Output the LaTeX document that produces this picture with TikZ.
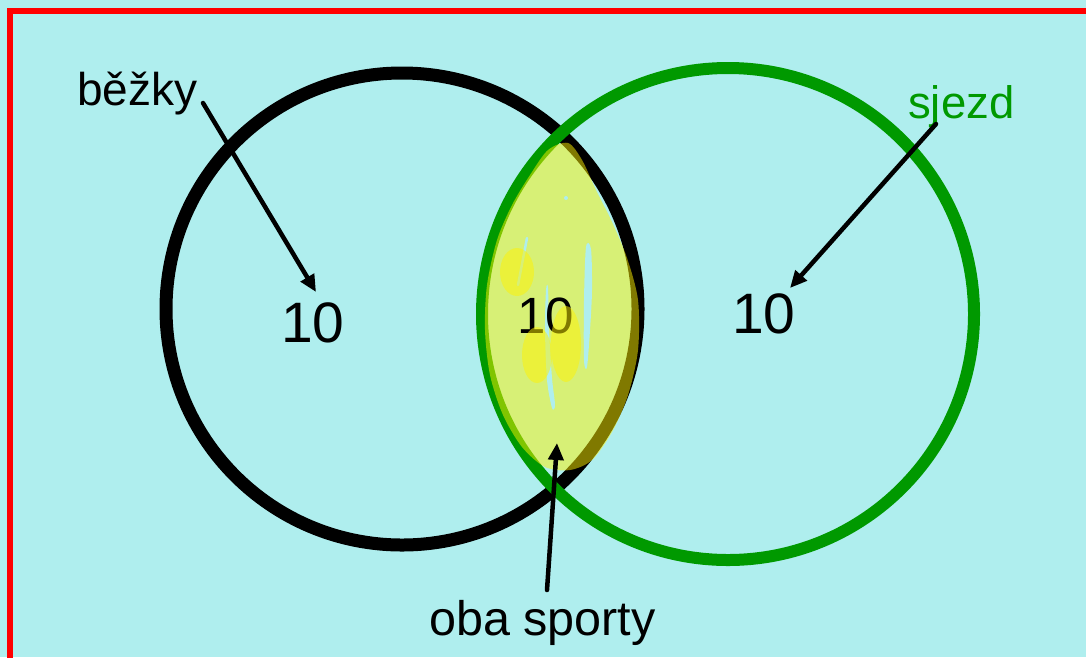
\documentclass[tikz,border=0pt]{standalone}
\usepackage{fontspec}
\setmainfont{Liberation Sans}
\usetikzlibrary{arrows.meta}
\definecolor{bg}{HTML}{AFEEEE}
\definecolor{vgreen}{HTML}{009900}
\begin{document}
\begin{tikzpicture}[x=1pt,y=-1pt,
  lbl/.style={inner sep=0pt, anchor=base west, font=\fontsize{46}{50}\selectfont},
  num/.style={inner sep=0pt, anchor=base west, font=\fontsize{57}{60}\selectfont},
  ptr/.style={line width=4.5pt, line cap=round, -{Triangle[length=17pt,width=15pt]}},
  hl/.style={fill=yellow, fill opacity=0.5},
  gap/.style={fill=bg}]
\useasboundingbox (0,0) rectangle (1086,657);
\fill[bg] (0,0) rectangle (1086,657);
\draw[red, line width=6pt] (10,660) -- (10,11) -- (1090,11);
% circles
\draw[black, line width=13pt] (402,309) circle[radius=236pt];
\draw[vgreen, line width=12pt] (728,314) circle[radius=246pt];
% highlight of the intersection
\fill[hl] plot[smooth cycle] coordinates {(568,143) (582,160) (596,190) (612,222) (627,258) (638,300) (638,350) (628,395) (612,432) (592,460) (570,470) (545,467) (522,447) (503,415) (490,375) (485,330) (487,285) (497,240) (512,205) (530,175) (548,150)};
% unpainted streaks
\fill[gap] plot[smooth cycle] coordinates {(586,247) (591,249) (592,290) (590,330) (587,367) (584,360) (584,300)};
\fill[gap] plot[smooth cycle] coordinates {(546,290) (548,288) (549,330) (552,378) (555,405) (552,408) (547,380) (545,330)};
\draw[bg, line width=2.5pt, line cap=round] (527,238) -- (518,285);
\fill[bg] (566,198) circle[radius=2pt];
% numbers
\node[num] (nL) at (281,342) {10};
\node[num] (nR) at (732,333) {10};
\node[num, font=\fontsize{51}{55}\selectfont] (nM) at (517,333) {10};
% extra highlight strokes
\fill[hl] (517,272) ellipse[x radius=17pt, y radius=24pt];
\fill[hl] (566,344) ellipse[x radius=15pt, y radius=38pt] (537,355) ellipse[x radius=15pt, y radius=28pt];
% labels
\node[lbl] (bez) at (77,105) {běžky};
\node[lbl, text=vgreen, font=\fontsize{45.5}{50}\selectfont] (sj) at (908,118) {sjezd};
\node[lbl, font=\fontsize{48.5}{52}\selectfont] (oba) at (429,635) {oba sporty};
% arrows
\coordinate (bA) at (203,103);
\coordinate (bT) at (316,292);
\coordinate (sA) at (936,124);
\coordinate (sT) at (790,288);
\coordinate (oA) at (547,590);
\coordinate (oT) at (557,443);
\draw[ptr] (bA) -- (bT);
\draw[ptr] (sA) -- (sT);
\draw[ptr] (oA) -- (oT);
\end{tikzpicture}
\end{document}
